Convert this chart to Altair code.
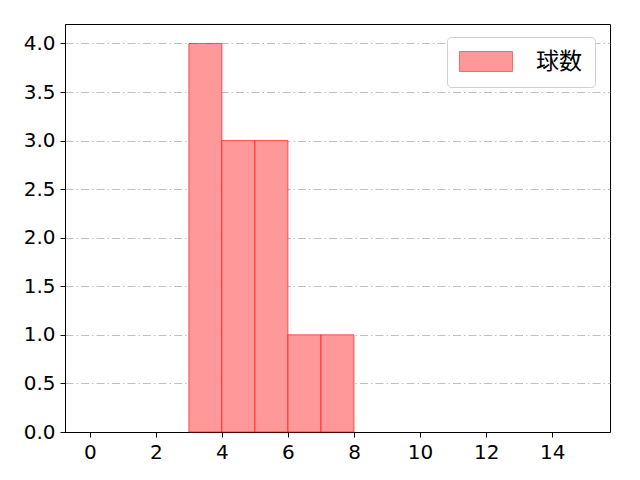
import altair as alt
import pandas as pd

bin_starts = [3, 4, 5, 6, 7]
bin_ends = [4, 5, 6, 7, 8]
counts = [4, 3, 3, 1, 1]
series = ["球数"] * 5
x_ticks = [0, 2, 4, 6, 8, 10, 12, 14]
y_ticks = [0.0, 0.5, 1.0, 1.5, 2.0, 2.5, 3.0, 3.5, 4.0]

df = pd.DataFrame({"start": bin_starts, "end": bin_ends, "count": counts, "series": series})

font = "DejaVu Sans"
cjk = "Noto Sans CJK JP"

chart = alt.Chart(df).mark_bar(
    stroke="#ff0000", strokeWidth=1, strokeOpacity=0.6, opacity=1
).encode(
    x=alt.X("start:Q", scale=alt.Scale(domain=[-0.75, 15.75], nice=False, zero=False),
            axis=alt.Axis(values=x_ticks, title=None, grid=False, labelFontSize=20,
                          labelFont=font, labelColor="#000", tickColor="#000",
                          domainColor="#000", tickSize=5, labelPadding=5, labelFlush=False)),
    x2="end:Q",
    y=alt.Y("count:Q", scale=alt.Scale(domain=[0, 4.2], nice=False),
            axis=alt.Axis(values=y_ticks, format=".1f", title=None, grid=True,
                          gridColor="#b0b0b0", gridDash=[8, 3, 1.5, 3], gridWidth=0.8,
                          labelFontSize=20, labelFont=font, labelColor="#000",
                          tickColor="#000", domainColor="#000", tickSize=5, labelPadding=5)),
    y2=alt.datum(0),
    color=alt.Color("series:N", scale=alt.Scale(domain=["球数"], range=["#ff9999"]),
                    legend=alt.Legend(title=None, orient="none", legendX=382, legendY=13,
                                      symbolType="M-1.2,-1L4.1,-1L4.1,1L-1.2,1Z",
                                      symbolSize=400, symbolStrokeColor="#ff6666",
                                      symbolStrokeWidth=1, symbolOpacity=1,
                                      labelFontSize=23, labelFont=cjk, labelColor="#000",
                                      strokeColor="#d0d0d0", cornerRadius=4, fillColor="white",
                                      padding=13, labelOffset=53)),
).properties(
    width=545, height=408,
    autosize=alt.AutoSizeParams(type="none"),
    padding={"left": 57, "top": 16, "right": 22, "bottom": 40},
).configure_view(
    stroke="#000", strokeWidth=1
)

chart.save("out.html", embed_options={"renderer": "svg", "actions": False})
